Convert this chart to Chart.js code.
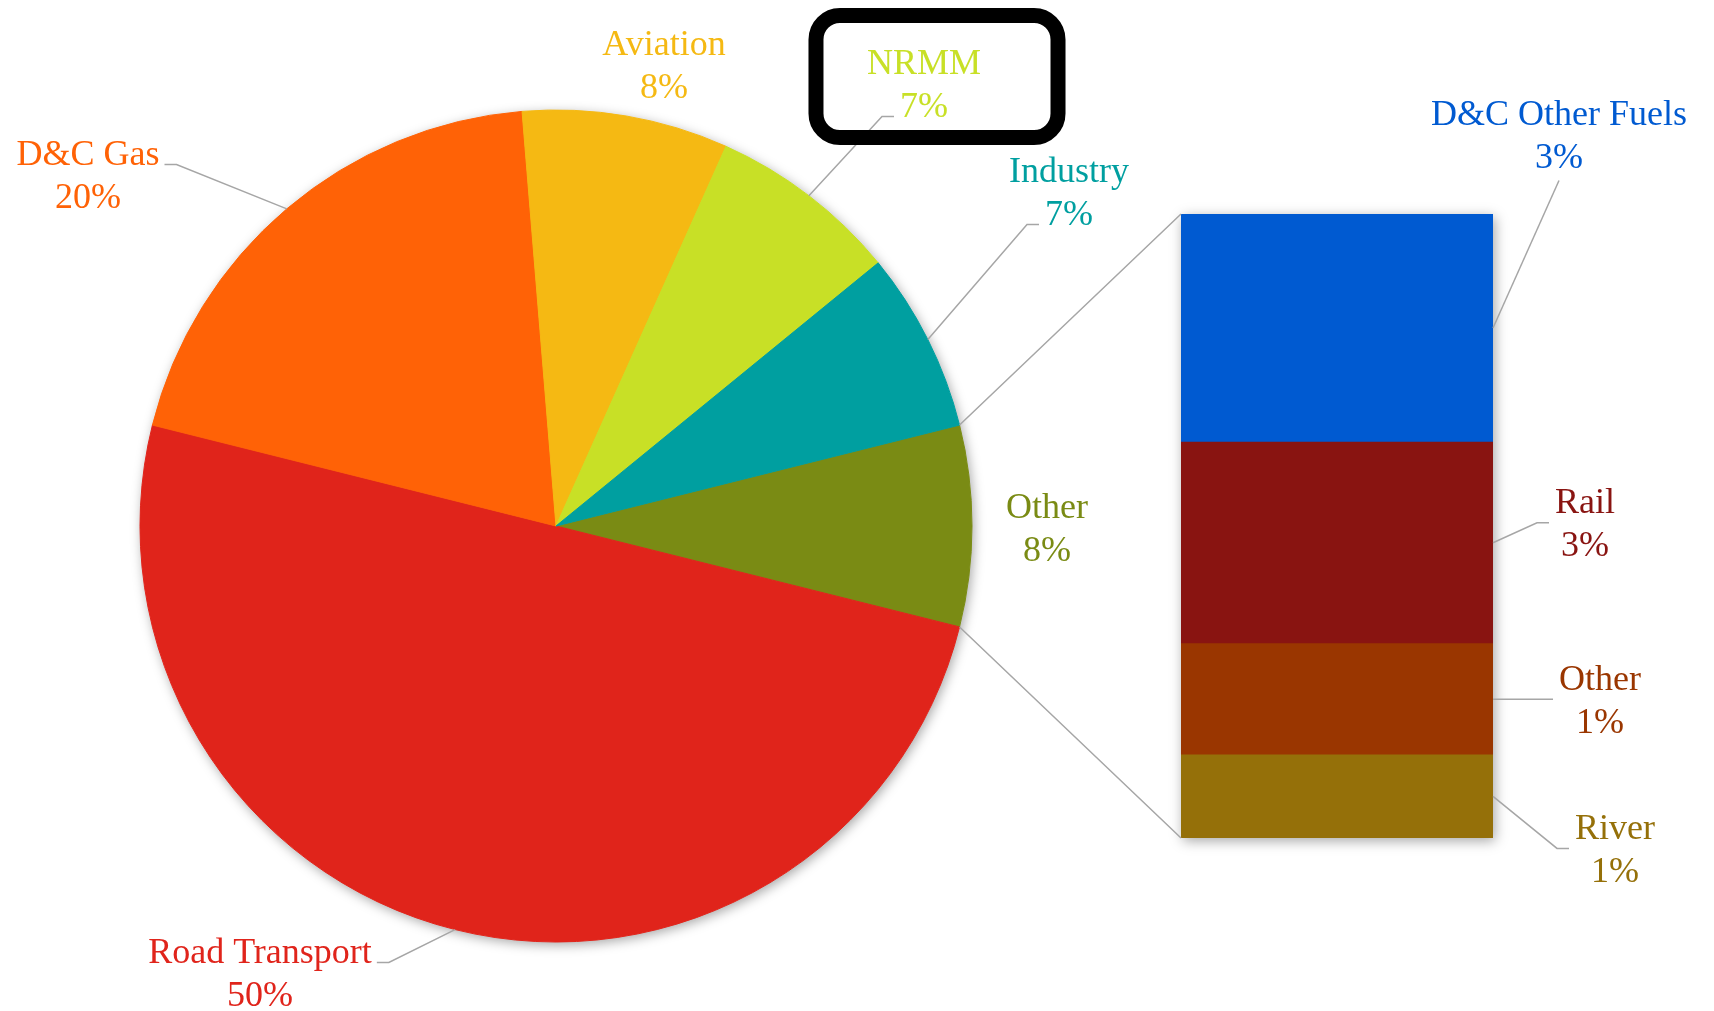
<!DOCTYPE html>
<html>
<head>
    <title>Emissions by source</title>
    <script src="https://cdn.jsdelivr.net/npm/chart.js"></script>
    <style>
        body { margin: 0; background: #fff; }
        #wrap { position: relative; width: 1714px; height: 1011px; }
        #wrap canvas { position: absolute; left: 0; top: 0; }
    </style>
</head>
<body>
<div id="wrap">
    <canvas id="pieChart" width="1714" height="1011"></canvas>
    <canvas id="barChart" width="1714" height="1011"></canvas>
</div>

<script>
    // pie slices, clockwise, starting with the slice that is split out into the bar
    var pieLabels = ['Other', 'Road Transport', 'D&C Gas', 'Aviation', 'NRMM', 'Industry'];
    var pieValues = [7.8, 50.0, 19.8, 8.0, 7.4, 7.0];
    var pieColors = ['#7a8b14', '#e0241b', '#ff6206', '#f5b913', '#c8e026', '#009fa0'];

    // breakdown of "Other", bottom to top
    var barLabels = ['River', 'Other', 'Rail', 'D&C Other Fuels'];
    var barValues = [1.04, 1.39, 2.52, 2.85];
    var barColors = ['#957009', '#9a3600', '#891411', '#005ad1'];

    // where the labels sit: offset of each text block from the pie centre / the bar's right edge
    var pieLabelOffset = [[491, 1], [-296, 446], [-468, -352], [108, -462], [368, -443], [513, -335]];
    var pieLeader = [null, {line: 0, side: 'right'}, {line: 0, side: 'right'}, null, {line: 1, side: 'left'}, {line: 1, side: 'left'}];
    var barLabelOffset = [[122, 52], [107, 0], [92, -20], [66, -194]];
    var barLeader = [{line: 'mid', side: 'left'}, {line: 'mid', side: 'left'}, {line: 'mid', side: 'left'}, {side: 'bottom'}];

    var FONT = '36px "Liberation Serif", "DejaVu Serif", serif';
    var LINE_GAP = 43;
    var CAP = 24;
    var LEADER = '#a6a6a6';

    function pct(v) { return Math.round(v) + '%'; }

    // two centred lines, (cx, cy) is the middle of the block
    function drawLabel(ctx, lines, cx, cy, color) {
        ctx.save();
        ctx.font = FONT;
        ctx.fillStyle = color;
        ctx.textAlign = 'center';
        ctx.textBaseline = 'alphabetic';
        var box = {cx: cx, cy: cy, lines: [], left: Infinity, right: -Infinity};
        lines.forEach(function (t, i) {
            var base = cy + (i - 0.5) * LINE_GAP + CAP / 2;
            var w = ctx.measureText(t).width;
            ctx.fillText(t, cx, base);
            box.lines.push({left: cx - w / 2, right: cx + w / 2, baseline: base});
            box.left = Math.min(box.left, cx - w / 2);
            box.right = Math.max(box.right, cx + w / 2);
        });
        box.top = box.lines[0].baseline - CAP;
        box.bottom = box.lines[lines.length - 1].baseline;
        ctx.restore();
        return box;
    }

    function drawLeader(ctx, ax, ay, box, spec) {
        ctx.save();
        ctx.strokeStyle = LEADER;
        ctx.lineWidth = 1.5;
        ctx.beginPath();
        ctx.moveTo(ax, ay);
        if (spec.side === 'bottom') {
            ctx.lineTo(box.cx, box.bottom + 13);
        } else {
            var ln = spec.line === 'mid' ? box : box.lines[spec.line];
            var ey = spec.line === 'mid' ? box.cy : ln.baseline;
            var ex = spec.side === 'right' ? ln.right + 5 : ln.left - 6;
            var kx = spec.side === 'right' ? ex + 12 : ex - 12;
            ctx.lineTo(kx, ey);
            ctx.lineTo(ex, ey);
        }
        ctx.stroke();
        ctx.restore();
    }

    function roundRect(ctx, x, y, w, h, r) {
        ctx.beginPath();
        ctx.moveTo(x + r, y);
        ctx.arcTo(x + w, y, x + w, y + h, r);
        ctx.arcTo(x + w, y + h, x, y + h, r);
        ctx.arcTo(x, y + h, x, y, r);
        ctx.arcTo(x, y, x + w, y, r);
        ctx.closePath();
    }

    var pieDecor = {
        id: 'pieDecor',
        beforeDatasetsDraw: function (chart) {
            var a = chart.getDatasetMeta(0).data[0];
            var ctx = chart.ctx;
            ctx.save();
            ctx.shadowColor = 'rgba(0,0,0,0.35)';
            ctx.shadowBlur = 12;
            ctx.shadowOffsetX = 2;
            ctx.shadowOffsetY = 3;
            ctx.fillStyle = '#fff';
            ctx.beginPath();
            ctx.arc(a.x, a.y, a.outerRadius, 0, Math.PI * 2);
            ctx.fill();
            ctx.restore();
        },
        afterDatasetsDraw: function (chart) {
            var ctx = chart.ctx;
            chart.getDatasetMeta(0).data.forEach(function (arc, i) {
                var p = arc.getProps(['x', 'y', 'startAngle', 'endAngle', 'outerRadius'], true);
                var mid = (p.startAngle + p.endAngle) / 2;
                var off = pieLabelOffset[i];
                var box = drawLabel(ctx, [pieLabels[i], pct(pieValues[i])], p.x + off[0], p.y + off[1], pieColors[i]);
                if (pieLeader[i]) {
                    drawLeader(ctx, p.x + Math.cos(mid) * p.outerRadius, p.y + Math.sin(mid) * p.outerRadius, box, pieLeader[i]);
                }
                if (pieLabels[i] === 'NRMM') {
                    // the highlight frame around this label
                    ctx.save();
                    ctx.strokeStyle = '#000';
                    ctx.lineWidth = 15;
                    roundRect(ctx, box.left - 51, box.top - 34, box.right - box.left + 128, box.bottom - box.top + 55, 24);
                    ctx.stroke();
                    ctx.restore();
                }
            });
        }
    };

    var otherShare = pieValues[0] / pieValues.reduce(function (s, v) { return s + v; }, 0);

    var pieChart = new Chart(document.getElementById('pieChart').getContext('2d'), {
        type: 'pie',
        data: {
            labels: pieLabels,
            datasets: [{
                data: pieValues,
                backgroundColor: pieColors,
                borderColor: pieColors,
                borderWidth: 1,
                hoverOffset: 0,
                radius: 416
            }]
        },
        options: {
            responsive: false,
            animation: false,
            events: [],
            // centre the split-off slice on the right-hand side
            rotation: 90 - otherShare * 180,
            layout: { padding: { left: 0, right: 602, top: 41, bottom: 0 } },
            plugins: { legend: { display: false }, tooltip: { enabled: false } }
        },
        plugins: [pieDecor]
    });

    var barDecor = {
        id: 'barDecor',
        beforeDatasetsDraw: function (chart) {
            var first = chart.getDatasetMeta(0).data[0];
            var last = chart.getDatasetMeta(barValues.length - 1).data[0];
            var ctx = chart.ctx;
            ctx.save();
            ctx.shadowColor = 'rgba(0,0,0,0.35)';
            ctx.shadowBlur = 12;
            ctx.shadowOffsetX = 2;
            ctx.shadowOffsetY = 3;
            ctx.fillStyle = '#fff';
            ctx.fillRect(first.x - first.width / 2, last.y, first.width, first.base - last.y);
            ctx.restore();
        },
        afterDatasetsDraw: function (chart) {
            var ctx = chart.ctx;
            var bars = barValues.map(function (v, i) { return chart.getDatasetMeta(i).data[0]; });
            bars.forEach(function (b, i) {
                var right = b.x + b.width / 2;
                var cy = (b.y + b.base) / 2;
                var off = barLabelOffset[i];
                var box = drawLabel(ctx, [barLabels[i], pct(barValues[i])], right + off[0], cy + off[1], barColors[i]);
                drawLeader(ctx, right, cy, box, barLeader[i]);
            });

            // connector lines from the split-off slice to the bar
            var arc = pieChart.getDatasetMeta(0).data[0];
            var top = bars[bars.length - 1];
            var bottom = bars[0];
            var left = bottom.x - bottom.width / 2;
            ctx.save();
            ctx.strokeStyle = LEADER;
            ctx.lineWidth = 1.5;
            ctx.beginPath();
            ctx.moveTo(arc.x + Math.cos(arc.startAngle) * arc.outerRadius, arc.y + Math.sin(arc.startAngle) * arc.outerRadius);
            ctx.lineTo(left, top.y);
            ctx.moveTo(arc.x + Math.cos(arc.endAngle) * arc.outerRadius, arc.y + Math.sin(arc.endAngle) * arc.outerRadius);
            ctx.lineTo(left, bottom.base);
            ctx.stroke();
            ctx.restore();
        }
    };

    var barTotal = barValues.reduce(function (s, v) { return s + v; }, 0);

    var barChart = new Chart(document.getElementById('barChart').getContext('2d'), {
        type: 'bar',
        data: {
            labels: ['Other'],
            datasets: barLabels.map(function (name, i) {
                return {
                    label: name,
                    data: [barValues[i]],
                    backgroundColor: barColors[i],
                    borderWidth: 0,
                    barPercentage: 1,
                    categoryPercentage: 1
                };
            })
        },
        options: {
            responsive: false,
            animation: false,
            events: [],
            layout: { padding: { left: 1181, right: 221, top: 214, bottom: 173 } },
            scales: {
                x: { stacked: true, display: false },
                y: { stacked: true, display: false, min: 0, max: barTotal }
            },
            plugins: { legend: { display: false }, tooltip: { enabled: false } }
        },
        plugins: [barDecor]
    });
</script>
</body>
</html>
